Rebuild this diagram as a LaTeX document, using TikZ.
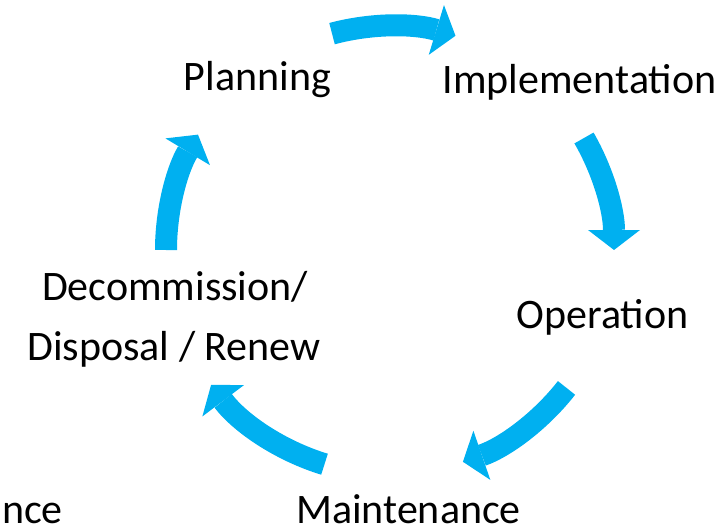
\documentclass[tikz,border=0pt]{standalone}
\usepackage{fontspec}
\setmainfont{Carlito}
\usetikzlibrary{arrows.meta,calc}

\definecolor{cyclecyan}{HTML}{00B0F0}

\tikzset{
	stage/.style={inner sep=0pt, anchor=base, font=\fontsize{42}{60}\selectfont},
	turn/.style={draw=cyclecyan, line width=22pt,
		-{Triangle[length=20pt,width=52pt,line width=0pt]}}
}

\begin{document}
\begin{tikzpicture}[x=1pt,y=1pt]
	\useasboundingbox (0,0) rectangle (725,531);
	\coordinate (hub) at (390,281);
	
	% the stages
	\node[stage] (planning) at (257.5,440) {Planning};
	\node[stage] (implementation) at (579.5,437) {Implementation};
	\node[stage] (operation) at (602.5,203) {Operation};
	\node[stage] (maintenance) at (408.5,8) {Maintenance};
	\node[stage] (decommission) at (175,231) {Decommission/};
	\node[stage] (disposal) at (174,171) {Disposal / Renew};
	\node[stage, anchor=base east] (leftover) at (63,8) {nce};
	
	% arrows round the cycle
	\draw[turn] ($(hub)+(105:224)$) arc[start angle=105, end angle=73, radius=224];
	\draw[turn] ($(hub)+(30:224)$) arc[start angle=30, end angle=0, radius=224];
	\draw[turn] ($(hub)+(-38:224)$) arc[start angle=-38, end angle=-71, radius=224];
	\draw[turn] ($(hub)+(-107:224)$) arc[start angle=-107, end angle=-143, radius=224];
	\draw[turn] ($(hub)+(180:224)$) arc[start angle=180, end angle=149, radius=224];
	
\end{tikzpicture}
\end{document}
